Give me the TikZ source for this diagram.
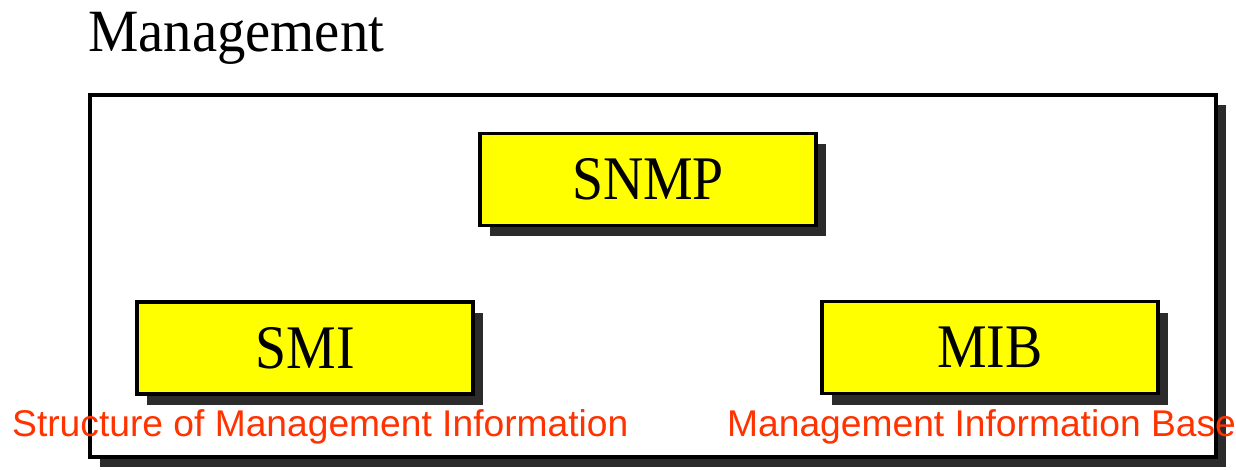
\documentclass[tikz,border=0pt]{standalone}
\usepackage{fontspec}
\setmainfont{Liberation Serif}
\newfontfamily\titlefont[FakeStretch=0.945]{Liberation Serif}
\newfontfamily\boxfont[FakeStretch=0.9]{Liberation Serif}
\newfontfamily\labelfont{Liberation Sans}
\usetikzlibrary{shadows}
\definecolor{boxyellow}{RGB}{255,255,0}
\definecolor{shadowgray}{RGB}{43,43,43}
\definecolor{labelred}{RGB}{255,51,0}
\tikzset{
  shadowed/.style={drop shadow={shadow xshift=10pt,shadow yshift=-11pt,fill=shadowgray,opacity=1}},
  outerbox/.style={draw=black,line width=3.5pt,fill=white,inner sep=0pt,
    minimum width=1126pt,minimum height=362pt,
    drop shadow={shadow xshift=10pt,shadow yshift=-10pt,fill=shadowgray,opacity=1}},
  protobox/.style={draw=black,line width=3.5pt,fill=boxyellow,inner sep=0pt,
    minimum width=336pt,minimum height=92pt,shadowed,
    font=\boxfont\fontsize{62}{62}\selectfont},
  redlabel/.style={text=labelred,inner sep=0pt,anchor=base west,
    font=\labelfont\fontsize{37.2}{37.2}\selectfont}
}
\begin{document}
\begin{tikzpicture}[x=1pt,y=-1pt]
\useasboundingbox[fill=white] (0,0) rectangle (1236,470);
\node[anchor=base west,inner sep=0pt,font=\titlefont\fontsize{60}{60}\selectfont] (title) at (88,52) {Management};
\node[outerbox] (mgmt) at (653,276) {};
\node[protobox] (snmp) at (648,179.5) {SNMP};
\node[protobox] (smi) at (305,348) {SMI};
\node[protobox] (mib) at (990,347.5) {MIB};
\node[redlabel] (smilabel) at (12,436) {Structure of Management Information};
\node[redlabel] (miblabel) at (727,436) {Management Information Base};
\end{tikzpicture}
\end{document}
